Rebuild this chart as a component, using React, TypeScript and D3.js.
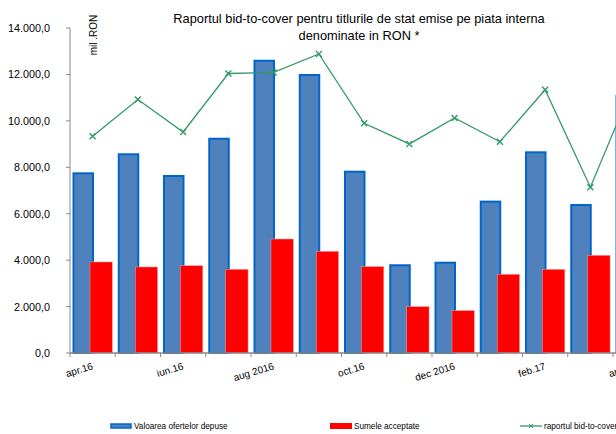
import React from "react";
import * as d3 from "d3";

// luni (apr.16 - apr.17)
const categories = ["apr.16", "mai.16", "iun.16", "iul.16", "aug.16", "sep.16", "oct.16", "nov.16", "dec.16", "ian.17", "feb.17", "mar.17", "apr.17"];
const tickLabels = ["apr.16", "", "iun.16", "", "aug 2016", "", "oct.16", "", "dec 2016", "", "feb.17", "", "apr.17"];
// mil. RON
const oferte = [7740, 8560, 7625, 9230, 12590, 11975, 7810, 3780, 3890, 6520, 8645, 6375, 11070];
const acceptate = [3920, 3705, 3760, 3605, 4910, 4380, 3720, 1995, 1825, 3390, 3605, 4210, 4380];
const bidToCover = [2.0, 2.34, 2.04, 2.58, 2.59, 2.76, 2.12, 1.93, 2.17, 1.95, 2.43, 1.53, 2.53];
const yTicks = [0, 2000, 4000, 6000, 8000, 10000, 12000, 14000];
const yTickLabels = ["0,0", "2.000,0", "4.000,0", "6.000,0", "8.000,0", "10.000,0", "12.000,0", "14.000,0"];

const W = 616, H = 434;
const left = 70, top = 28, bottom = 353;
const band = 45.25;
const axisColor = "#888888";
const lineColor = "#339966";
const font = "'Liberation Sans', Arial, sans-serif";

export default function App() {
  const x = d3.scaleBand<string>()
    .domain(categories)
    .range([left, left + band * categories.length])
    .padding(0);
  const y = d3.scaleLinear().domain([0, 14000]).range([bottom, top]);
  const y2 = d3.scaleLinear().domain([0, 3]).range([bottom, top]);

  const line = d3.line<number>()
    .x((d, i) => (x(categories[i]) as number) + band / 2)
    .y(d => y2(d));

  const m = 3;

  return (
    <svg width={W} height={H} style={{ position: "absolute", left: 0, top: 0, background: "#fff" }} fontFamily={font}>
      {/* titlu */}
      <text x={359} y={23} textAnchor="middle" fontSize={12.8} fill="#000">Raportul bid-to-cover pentru titlurile de stat emise pe piata interna</text>
      <text x={359} y={40} textAnchor="middle" fontSize={12.8} fill="#000">denominate in RON *</text>
      <text transform="translate(97,35) rotate(-90)" textAnchor="middle" fontSize={10} fill="#000">mil .RON</text>

      {/* axa y */}
      <line x1={left} x2={left} y1={top} y2={bottom} stroke={axisColor} />
      {yTicks.map((t, i) => (
        <g key={t}>
          <line x1={left - 4} x2={left} y1={y(t)} y2={y(t)} stroke={axisColor} />
          <text x={50} y={y(t) + 4} textAnchor="end" fontSize={10.8} fill="#000">{yTickLabels[i]}</text>
        </g>
      ))}

      {/* bare */}
      {categories.map((c, i) => (
        <rect key={"b" + c} x={(x(c) as number) + 3.5} width={19.5} y={y(oferte[i])} height={bottom - y(oferte[i])}
          fill="#4f81bd" stroke="#0066cc" strokeWidth={2} />
      ))}
      {categories.map((c, i) => (
        <rect key={"r" + c} x={(x(c) as number) + 20} width={22.3} y={y(acceptate[i])} height={bottom - y(acceptate[i])}
          fill="#ff0000" stroke="#ff9999" strokeWidth={0.5} />
      ))}

      {/* axa x */}
      <line x1={left} x2={W} y1={bottom} y2={bottom} stroke={axisColor} strokeWidth={1.5} />
      {categories.map(c => (
        <line key={"t" + c} x1={x(c) as number} x2={x(c) as number} y1={bottom} y2={bottom + 4} stroke={axisColor} />
      ))}
      {categories.map((c, i) => tickLabels[i] ? (
        <text key={"l" + c} transform={`translate(${(x(c) as number) + band / 2 + 1},369) rotate(-17)`}
          textAnchor="end" fontSize={10} fill="#000">{tickLabels[i]}</text>
      ) : null)}

      {/* linie bid-to-cover */}
      <path d={line(bidToCover) || ""} fill="none" stroke={lineColor} strokeWidth={1.3} />
      {bidToCover.map((v, i) => {
        const cx = (x(categories[i]) as number) + band / 2, cy = y2(v);
        return (
          <path key={"m" + i} d={`M${cx - m},${cy - m}L${cx + m},${cy + m}M${cx - m},${cy + m}L${cx + m},${cy - m}`}
            stroke={lineColor} strokeWidth={1.4} />
        );
      })}

      {/* legenda */}
      <rect x={111} y={424} width={20} height={4} fill="#4f81bd" stroke="#0066cc" strokeWidth={1.5} />
      <text x={134} y={429} fontSize={8.2} fill="#000">Valoarea ofertelor depuse</text>
      <rect x={330} y={423} width={22} height={6} fill="#ff0000" />
      <text x={354} y={429} fontSize={8.2} fill="#000">Sumele acceptate</text>
      <line x1={520} x2={542} y1={426} y2={426} stroke={lineColor} strokeWidth={1.3} />
      <path d={`M${531 - 2},${424}L${531 + 2},${428}M${531 - 2},${428}L${531 + 2},${424}`} stroke={lineColor} strokeWidth={1} />
      <text x={544} y={429} fontSize={8.2} fill="#000">raportul bid-to-cover</text>
    </svg>
  );
}
